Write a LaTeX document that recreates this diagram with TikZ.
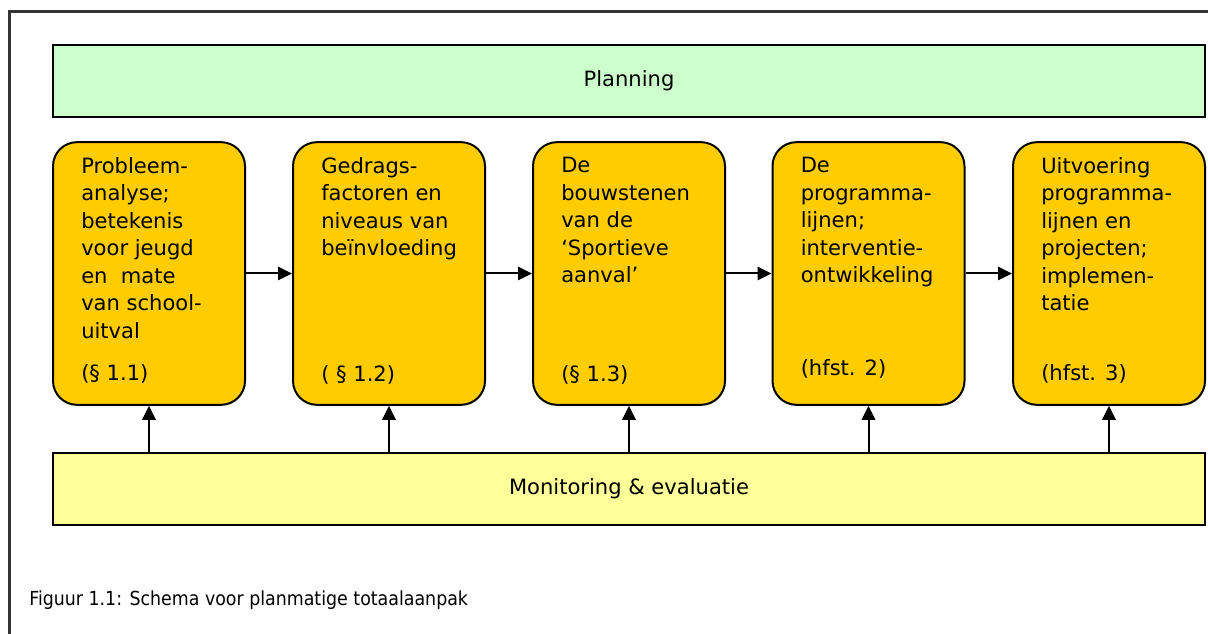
\documentclass[tikz,border=0pt]{standalone}
\usepackage{fontspec}
\setmainfont{DejaVu Sans}
\newfontfamily\captionface[FakeStretch=0.9]{DejaVu Sans}
\usetikzlibrary{arrows.meta,calc}
\definecolor{planfill}{HTML}{CCFFCC}
\definecolor{stagefill}{HTML}{FFCC00}
\definecolor{monfill}{HTML}{FFFF99}
\definecolor{framecol}{HTML}{333333}
\tikzset{
  band/.style={draw=black, line width=1.5pt, minimum width=864pt, minimum height=54pt,
    inner sep=0pt, font=\fontsize{15.8}{20.6}\selectfont},
  stage/.style={draw=black, fill=stagefill, line width=1.5pt, rounded corners=18pt,
    minimum width=144pt, minimum height=197pt, inner sep=0pt},
  stagetext/.style={anchor=north west, align=left, inner sep=0pt,
    font=\fontsize{15.8}{20.6}\selectfont},
  stageref/.style={anchor=west, inner sep=0pt, font=\fontsize{15.8}{20.6}\selectfont},
  link/.style={draw=black, line width=1.5pt, -{Triangle[length=10.5pt,width=10pt]}},
}
\begin{document}
\begin{tikzpicture}[x=0.75pt, y=-0.75pt]
\useasboundingbox (0,0) rectangle (1208,634);
% outer frame (runs off the page to the right and below)
\draw[framecol, line width=1.6pt] (9.5,640) -- (9.5,11.5) -- (1215,11.5);

% planning band
\node[band, fill=planfill] (plan) at (629,81) {Planning};

% the five stages
\node[stage] (b1) at (149,273.5) {};
\node[stage] (b2) at (389,273.5) {};
\node[stage] (b3) at (629,273.5) {};
\node[stage] (b4) at (868.5,273.5) {};
\node[stage] (b5) at (1109,273.5) {};

\node[stagetext] (t1) at ($(b1.north west)+(29,16)$) {Probleem-\\analyse;\\betekenis\\voor jeugd\\en\ \ mate\\van school-\\uitval};
\node[stagetext] (t2) at ($(b2.north west)+(29,16)$) {Gedrags-\\factoren en\\niveaus van\\beïnvloeding};
\node[stagetext] (t3) at ($(b3.north west)+(29,16)$) {De\\bouwstenen\\van de\\‘Sportieve\\aanval’};
\node[stagetext] (t4) at ($(b4.north west)+(29,16)$) {De\\programma-\\lijnen;\\interventie-\\ontwikkeling};
\node[stagetext] (t5) at ($(b5.north west)+(29,16)$) {Uitvoering\\programma-\\lijnen en\\projecten;\\implemen-\\tatie};

\node[stageref] (r1) at ($(b1.north west)+(29,233)$) {(§ 1.1)};
\node[stageref] (r2) at ($(b2.north west)+(29,234)$) {( § 1.2)};
\node[stageref] (r3) at ($(b3.north west)+(29,234)$) {(§ 1.3)};
\node[stageref] (r4) at ($(b4.north west)+(29,228)$) {(hfst. 2)};
\node[stageref] (r5) at ($(b5.north west)+(29,233)$) {(hfst. 3)};

% monitoring band
\node[band, fill=monfill] (mon) at (629,489) {Monitoring \& evaluatie};

% flow between stages
\draw[link] (b1.east) -- (b2.west);
\draw[link] (b2.east) -- (b3.west);
\draw[link] (b3.east) -- (b4.west);
\draw[link] (b4.east) -- (b5.west);

% feedback from monitoring into every stage
\foreach \b in {b1,b2,b3,b4,b5}
  \draw[link] (mon.north -| \b.south) -- (\b.south);

% caption
\node[anchor=west, inner sep=0pt, font=\captionface\fontsize{14.5}{17}\selectfont] (cap) at (29,600)
  {Figuur 1.1: Schema voor planmatige totaalaanpak};
\end{tikzpicture}
\end{document}
